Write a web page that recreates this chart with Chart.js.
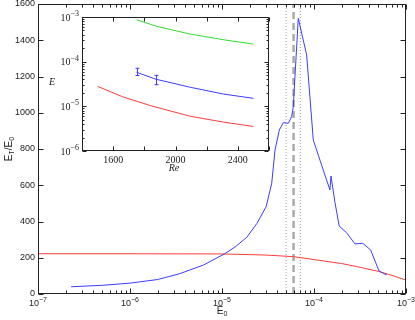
<!DOCTYPE html>
<html>
<head>
<meta charset="utf-8">
<script src="https://cdn.jsdelivr.net/npm/chart.js@4/dist/chart.umd.min.js"></script>
<style>
  html, body { margin: 0; padding: 0; background: #fff; }
  #wrap { position: relative; width: 415px; height: 320px; }
  #main { position: absolute; left: 0; top: 0; width: 415px; height: 320px; }
  #inset { position: absolute; left: 40px; top: 10px; width: 232px; height: 166px; }
</style>
</head>
<body>
<div id="wrap">
  <canvas id="main" width="415" height="320"></canvas>
  <canvas id="inset" width="232" height="166"></canvas>
</div>
<script>
// main panel: E_T/E_0 against E_0
const blueE0 = [2.29e-7, 5.0e-7, 1.0e-6, 2.0e-6, 3.47e-6, 6.3e-6, 1.07e-5, 1.41e-5, 1.86e-5, 2.4e-5,
  3.02e-5, 3.47e-5, 3.77e-5, 4.2e-5, 4.63e-5, 5.26e-5, 5.71e-5, 5.96e-5, 6.21e-5, 6.75e-5,
  8.32e-5, 9.82e-5, 1.16e-4, 1.26e-4, 1.49e-4, 1.53e-4, 1.69e-4, 1.88e-4, 2.26e-4, 2.79e-4,
  3.38e-4, 4.13e-4, 5.09e-4, 6.17e-4];
const blueRatio = [40, 48, 60, 80, 112, 160, 222, 262, 313, 390,
  482, 611, 794, 905, 945, 942, 978, 1033, 1199, 1521,
  1319, 850, 739, 684, 574, 651, 505, 375, 338, 276,
  280, 243, 127, 105];
const redE0 = [1e-7, 1e-6, 1e-5, 3e-5, 6e-5, 1e-4, 2e-4, 3e-4, 5e-4, 7e-4, 1e-3];
const redRatio = [222, 222, 221, 215, 206, 190, 168, 150, 125, 103, 77];
const markE0 = [4.97e-5, 6.0e-5, 7.1e-5];   // dotted, dashed, dotted
const xDecades = [1e-7, 1e-6, 1e-5, 1e-4, 1e-3];
const yTicks = [0, 200, 400, 600, 800, 1000, 1200, 1400, 1600];

// inset: E against Re
const greenRe = [1750, 1880, 2095, 2310, 2500];
const greenE = [8.7e-4, 6.15e-4, 4.14e-4, 3.09e-4, 2.47e-4];
const blueRe = [1750, 1875, 2095, 2310, 2500];
const blueE = [5.8e-5, 4.04e-5, 2.67e-5, 1.88e-5, 1.51e-5];
const errRe = [1750, 1875];
const errLow = [4.9e-5, 3.05e-5];
const errHigh = [7.1e-5, 4.95e-5];
const redRe = [1500, 1660, 1850, 2095, 2310, 2500];
const redE = [2.8e-5, 1.64e-5, 1.01e-5, 6.0e-6, 4.42e-6, 3.54e-6];
const insetXTicks = [1400, 1600, 1800, 2000, 2200, 2400, 2600];
const insetDecades = [1e-6, 1e-5, 1e-4, 1e-3];

const BLUE = 'rgb(60,60,255)';
const RED = 'rgb(255,60,60)';
const GREEN = 'rgb(50,220,50)';
const INK = '#222';
const SANS = 'Liberation Sans, Arial, sans-serif';
const SERIF = 'Liberation Serif, Times New Roman, serif';

function minorLog(decades) {
  const out = [];
  decades.slice(0, -1).forEach(d => { for (let k = 2; k <= 9; k++) out.push(k * d); });
  return out;
}

// box round the plot with inward tick marks (matlab look)
const frameTicks = {
  id: 'frameTicks',
  beforeDatasetsDraw(chart, args, opts) {
    if (!opts.fill) return;
    const a = chart.chartArea;
    chart.ctx.save();
    chart.ctx.fillStyle = opts.fill;
    chart.ctx.fillRect(a.left, a.top, a.right - a.left, a.bottom - a.top);
    chart.ctx.restore();
  },
  afterDraw(chart, args, opts) {
    const { ctx, chartArea: a, scales } = chart;
    const L = Math.round(a.left) + 0.5, R = Math.round(a.right) - 0.5;
    const T = Math.round(a.top) + 0.5, B = Math.round(a.bottom) - 0.5;
    ctx.save();
    ctx.strokeStyle = INK;
    ctx.lineWidth = 1;
    ctx.beginPath();
    (opts.x || []).forEach(([v, len]) => {
      const px = Math.round(scales.x.getPixelForValue(v)) + 0.5;
      ctx.moveTo(px, B); ctx.lineTo(px, B - len);
      ctx.moveTo(px, T); ctx.lineTo(px, T + len);
    });
    (opts.y || []).forEach(([v, len]) => {
      const py = Math.round(scales.y.getPixelForValue(v)) + 0.5;
      ctx.moveTo(L, py); ctx.lineTo(L + len, py);
      ctx.moveTo(R, py); ctx.lineTo(R - len, py);
    });
    ctx.stroke();
    ctx.strokeRect(L, T, R - L, B - T);
    ctx.restore();
  }
};

// "10" with a raised exponent for the log axes
const powLabels = {
  id: 'powLabels',
  afterDraw(chart, args, opts) {
    const { ctx, chartArea: a, scales } = chart;
    const big = `${opts.size}px ${opts.family}`;
    const small = `${opts.sup}px ${opts.family}`;
    ctx.save();
    ctx.fillStyle = INK;
    ctx.textAlign = 'left';
    ctx.textBaseline = 'alphabetic';
    opts.values.forEach(v => {
      const exp = String(Math.round(Math.log10(v))).replace('-', '\u2212');
      ctx.font = big;  const w1 = ctx.measureText('10').width;
      ctx.font = small; const w2 = ctx.measureText(exp).width;
      let x0, base;
      if (opts.axis === 'x') {
        x0 = scales.x.getPixelForValue(v) - (w1 + w2) / 2;
        base = a.bottom + opts.pad + opts.size * 0.95;
      } else {
        x0 = a.left - opts.pad - w1 - w2;
        base = scales.y.getPixelForValue(v) + opts.size * 0.35;
      }
      ctx.font = big;  ctx.fillText('10', x0, base);
      ctx.font = small; ctx.fillText(exp, x0 + w1, base - opts.size * 0.45);
    });
    ctx.restore();
  }
};

// axis titles with subscripts
const subTitles = {
  id: 'subTitles',
  afterDraw(chart, args, opts) {
    const ctx = chart.ctx;
    (opts.items || []).forEach(it => {
      const small = Math.round(it.size * 0.7);
      const fontFor = sub => `${it.style || ''} ${sub ? small : it.size}px ${it.family}`;
      let w = 0;
      it.parts.forEach(([t, sub]) => { ctx.font = fontFor(sub); w += ctx.measureText(t).width; });
      ctx.save();
      ctx.translate(it.x, it.y);
      if (it.rotate) ctx.rotate(it.rotate);
      ctx.fillStyle = INK;
      ctx.textBaseline = 'middle';
      ctx.textAlign = 'left';
      let cx = -w / 2;
      it.parts.forEach(([t, sub]) => {
        ctx.font = fontFor(sub);
        ctx.fillText(t, cx, sub ? it.size * 0.35 : 0);
        cx += ctx.measureText(t).width;
      });
      ctx.restore();
    });
  }
};

const errorBars = {
  id: 'errorBars',
  afterDatasetsDraw(chart) {
    const { ctx, scales } = chart;
    ctx.save();
    ctx.strokeStyle = BLUE;
    ctx.lineWidth = 1;
    ctx.beginPath();
    errRe.forEach((re, i) => {
      const px = Math.round(scales.x.getPixelForValue(re)) + 0.5;
      const y1 = scales.y.getPixelForValue(errLow[i]);
      const y2 = scales.y.getPixelForValue(errHigh[i]);
      ctx.moveTo(px, y1); ctx.lineTo(px, y2);
      ctx.moveTo(px - 2, y1); ctx.lineTo(px + 2, y1);
      ctx.moveTo(px - 2, y2); ctx.lineTo(px + 2, y2);
    });
    ctx.stroke();
    ctx.restore();
  }
};

const line = (xs, ys, color) => ({
  data: xs.map((x, i) => ({ x, y: ys[i] })),
  borderColor: color, borderWidth: 1, pointRadius: 0, tension: 0, fill: false
});

new Chart(document.getElementById('main'), {
  type: 'line',
  data: {
    datasets: [
      line(blueE0, blueRatio, BLUE),
      line(redE0, redRatio, RED),
      ...markE0.map((m, i) => ({
        data: [{ x: m, y: 0 }, { x: m, y: 1600 }],
        borderColor: i === 1 ? '#aaa' : '#999',
        borderWidth: i === 1 ? 2.5 : 1,
        borderDash: i === 1 ? [7, 4] : [1, 2],
        pointRadius: 0
      }))
    ]
  },
  options: {
    responsive: false,
    animation: false,
    layout: { padding: { left: 0, right: 9, top: 4, bottom: 0 } },
    plugins: {
      legend: { display: false },
      tooltip: { enabled: false },
      frameTicks: {
        x: xDecades.map(v => [v, 5]).concat(minorLog(xDecades).map(v => [v, 3])),
        y: yTicks.map(v => [v, 5])
      },
      powLabels: { axis: 'x', values: xDecades, family: SANS, size: 9, sup: 7, pad: 3 },
      subTitles: {
        items: [
          { parts: [['E', false], ['0', true]], x: 222, y: 311, size: 10, family: SANS },
          { parts: [['E', false], ['T', true], ['/E', false], ['0', true]], x: 9, y: 149, size: 10,
            family: SANS, rotate: -Math.PI / 2 }
        ]
      }
    },
    scales: {
      x: {
        type: 'logarithmic', min: 1e-7, max: 1e-3,
        grid: { display: false, drawTicks: false }, border: { display: false },
        afterBuildTicks: s => { s.ticks = xDecades.map(v => ({ value: v })); },
        ticks: { display: false },
        afterFit: s => { s.height = 26; s.paddingLeft = 0; s.paddingRight = 0; }
      },
      y: {
        min: 0, max: 1600,
        grid: { display: false, drawTicks: false }, border: { display: false },
        afterBuildTicks: s => { s.ticks = yTicks.map(v => ({ value: v })); },
        ticks: { callback: v => String(v), font: { family: SANS, size: 9 }, color: INK, padding: 3 },
        afterFit: s => { s.width = 38; s.paddingTop = 0; s.paddingBottom = 0; }
      }
    }
  },
  plugins: [frameTicks, powLabels, subTitles]
});

new Chart(document.getElementById('inset'), {
  type: 'line',
  data: {
    datasets: [
      line(greenRe, greenE, GREEN),
      line(blueRe, blueE, BLUE),
      line(redRe, redE, RED)
    ]
  },
  options: {
    responsive: false,
    animation: false,
    layout: { padding: { left: 0, right: 3, top: 7, bottom: 0 } },
    plugins: {
      legend: { display: false },
      tooltip: { enabled: false },
      frameTicks: {
        fill: '#fff',
        x: insetXTicks.map(v => [v, 4]),
        y: insetDecades.map(v => [v, 4]).concat(minorLog(insetDecades).map(v => [v, 2]))
      },
      powLabels: { axis: 'y', values: insetDecades, family: SERIF, size: 10, sup: 8, pad: 3 },
      subTitles: {
        items: [
          { parts: [['E', false]], x: 12, y: 72, size: 10, family: SERIF, style: 'italic' },
          { parts: [['Re', false]], x: 134, y: 158, size: 10, family: SERIF, style: 'italic' }
        ]
      }
    },
    scales: {
      x: {
        type: 'linear', min: 1400, max: 2600,
        grid: { display: false, drawTicks: false }, border: { display: false },
        afterBuildTicks: s => { s.ticks = insetXTicks.map(v => ({ value: v })); },
        ticks: { callback: v => (v % 400 === 0 ? String(v) : ''), font: { family: SERIF, size: 10 },
          color: INK, padding: 3, maxRotation: 0, autoSkip: false },
        afterFit: s => { s.height = 25; s.paddingLeft = 0; s.paddingRight = 0; }
      },
      y: {
        type: 'logarithmic', min: 1e-6, max: 1e-3,
        grid: { display: false, drawTicks: false }, border: { display: false },
        afterBuildTicks: s => { s.ticks = insetDecades.map(v => ({ value: v })); },
        ticks: { display: false },
        afterFit: s => { s.width = 42; s.paddingTop = 0; s.paddingBottom = 0; }
      }
    }
  },
  plugins: [frameTicks, powLabels, subTitles, errorBars]
});
</script>
</body>
</html>
